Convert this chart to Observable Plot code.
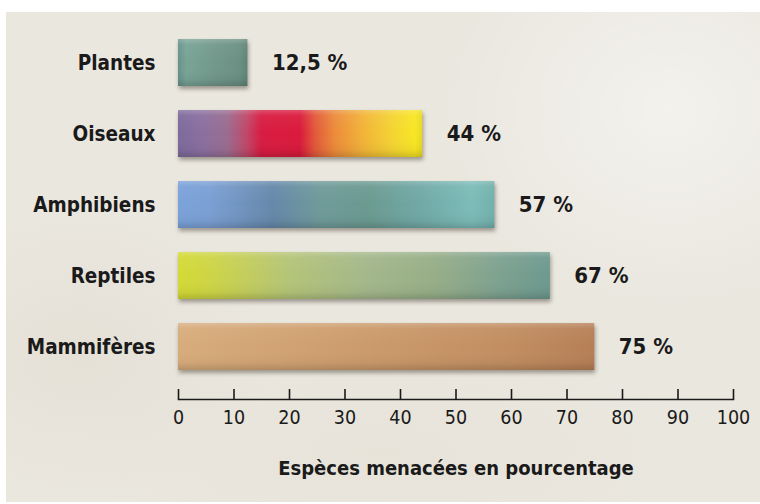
<!DOCTYPE html>
<html><head><meta charset="utf-8">
<script src="https://cdn.jsdelivr.net/npm/d3@7"></script>
<script src="https://cdn.jsdelivr.net/npm/@observablehq/plot@0.6"></script>
<style>
body{margin:0;background:#fff;}
#wrap{position:relative;width:760px;height:504px;overflow:hidden;}
#bg{position:absolute;left:6px;top:12px;right:0;bottom:2px;
  background:
   radial-gradient(ellipse 30% 40% at 88% 20%, rgba(255,255,255,0.45), rgba(255,255,255,0) 100%),
   radial-gradient(ellipse 25% 30% at 10% 70%, rgba(205,195,175,0.18), rgba(205,195,175,0) 100%),
   radial-gradient(ellipse 40% 25% at 50% 90%, rgba(215,205,185,0.15), rgba(215,205,185,0) 100%),
   #eae7df;}
#chart{position:absolute;left:0;top:0;}
</style></head><body>
<div id="wrap"><div id="bg"></div><div id="chart"></div></div>
<script>
const categories = ["Plantes", "Oiseaux", "Amphibiens", "Reptiles", "Mammifères"];
const values = [12.5, 44, 57, 67, 75];
const valueLabels = ["12,5 %", "44 %", "57 %", "67 %", "75 %"];
const gradientIds = ["g-plantes", "g-oiseaux", "g-amphibiens", "g-reptiles", "g-mammiferes"];
const xTicks = [0, 10, 20, 30, 40, 50, 60, 70, 80, 90, 100];
const axisTitle = "Espèces menacées en pourcentage";

const gradientStops = {
  "g-plantes": [[0, "#66928a"], [0.12, "#78a496"], [0.5, "#72998c"], [0.88, "#6b9083"], [1, "#5e8577"]],
  "g-oiseaux": [[0, "#7d6a9c"], [0.1, "#8a6fa0"], [0.2, "#9a6c90"], [0.28, "#c0486a"], [0.34, "#d81c42"], [0.5, "#da1a3c"], [0.56, "#e2583a"], [0.64, "#ec8a3a"], [0.76, "#f2b438"], [0.88, "#f4d432"], [0.97, "#f8e624"], [1, "#e8d820"]],
  "g-amphibiens": [[0, "#7aa2da"], [0.1, "#7b9fd4"], [0.3, "#6588aa"], [0.45, "#6f9a9a"], [0.6, "#6b9a90"], [0.76, "#70a8a6"], [0.93, "#7cbcb8"], [1, "#72b0ab"]],
  "g-reptiles": [[0, "#d4da34"], [0.1, "#ccd448"], [0.3, "#b4c478"], [0.5, "#a4b88a"], [0.7, "#96ad88"], [0.86, "#7ea290"], [1, "#6c998f"]],
  "g-mammiferes": [[0, "#d8ac7c"], [0.4, "#cd9d6d"], [0.8, "#c18d61"], [1, "#b67f56"]]
};

const data = categories.map((c, i) => ({category: c, value: values[i], label: valueLabels[i]}));

const font = "'DejaVu Sans Condensed', 'Liberation Sans Narrow', 'Liberation Sans', sans-serif";

const barMarks = categories.map((c, i) =>
  Plot.barX(data.filter(d => d.category === c), {x: "value", y: "category", fill: `url(#${gradientIds[i]})`})
);
const shadeMarks = Plot.barX(data, {x: "value", y: "category", fill: "url(#g-shade)"});

const chart = Plot.plot({
  width: 760,
  height: 504,
  marginLeft: 178,
  marginRight: 27,
  marginTop: 12,
  marginBottom: 105,
  style: {background: "transparent", fontFamily: font, color: "#1a1a1a", fontStretch: "condensed"},
  x: {domain: [0, 100], label: null},
  y: {domain: categories, range: [26, 383], paddingInner: 0.34, paddingOuter: 0.17, label: null},
  marks: [
    ...barMarks,
    shadeMarks,
    Plot.frame({anchor: "bottom", stroke: "#1a1a1a", strokeWidth: 1.6}),
    Plot.axisX(xTicks, {tickSize: -10, fill: "none", stroke: "#1a1a1a", strokeWidth: 1.6, label: null}),
    Plot.axisX(xTicks, {tickSize: 0, tickPadding: 11, fontSize: 19.5, fill: "#1a1a1a", label: null}),
    Plot.axisY({tickSize: 0, tickPadding: 23, fontSize: 20.5, fontWeight: "bold", fill: "#1a1a1a", label: null}),
    Plot.text(data, {x: "value", y: "category", text: "label", textAnchor: "start", dx: 24, fontSize: 22, fontWeight: "bold", fill: "#1a1a1a"}),
    Plot.text([axisTitle], {text: d => d, frameAnchor: "bottom", dy: 75, fontSize: 20, fontWeight: "bold", fill: "#1a1a1a"})
  ]
});

// gradient + filter definitions
const svg = d3.select(chart);
const defs = svg.insert("defs", ":first-child");
for (const id of gradientIds) {
  const g = defs.append("linearGradient").attr("id", id).attr("x1", 0).attr("y1", 0).attr("x2", 1).attr("y2", 0);
  for (const [o, col] of gradientStops[id]) g.append("stop").attr("offset", o).attr("stop-color", col);
}
const sh = defs.append("linearGradient").attr("id", "g-shade").attr("x1", 0).attr("y1", 0).attr("x2", 0).attr("y2", 1);
[[0, "#ffffff", 0.22], [0.12, "#ffffff", 0.05], [0.5, "#ffffff", 0], [0.85, "#000000", 0.04], [1, "#000000", 0.16]]
  .forEach(([o, c, a]) => sh.append("stop").attr("offset", o).attr("stop-color", c).attr("stop-opacity", a));
svg.selectAll('g[aria-label="bar"]').filter((d, i) => i < categories.length)
  .style("filter", "drop-shadow(1px 3px 2px rgba(60,50,40,0.45))");

document.getElementById("chart").appendChild(chart);
</script>
</body></html>
